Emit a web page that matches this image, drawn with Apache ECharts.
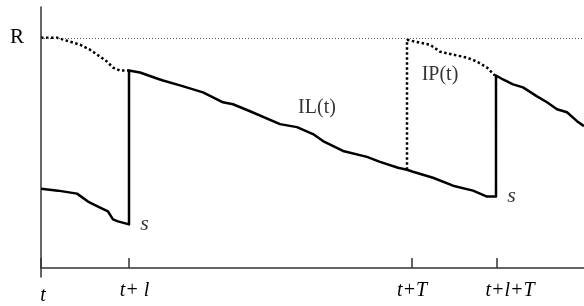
<!DOCTYPE html>
<html>
<head>
<meta charset="utf-8">
<script src="https://cdn.jsdelivr.net/npm/echarts@6/dist/echarts.min.js"></script>
<style>html,body{margin:0;padding:0;background:#fff}#c{width:584px;height:306px}</style>
</head>
<body>
<div id="c"></div>
<script>
// Inventory level IL(t) (solid), includes order arrival jumps
const ilPoints = [[0,80],[17,78],[36,75],[47,67],[57,62],[67,57],[72,49],[77,47],[88,44],[88,199],[99,197],[116,191],[122,189],[139,184],[162,177],[182,167],[192,165],[209,158],[239,145],[256,142],[272,135],[282,128],[302,118],[326,112],[339,107],[357,101],[366,99],[372,97],[392,91],[412,83],[432,78],[439,75],[446,72],[455,72],[455,194],[462,190],[472,185],[482,182],[496,173],[506,167],[516,160],[526,157],[536,148],[543,143]];
// Inventory position IP(t) (dotted), first cycle
const ipPoints1 = [[0,232],[16,232],[26,229],[39,225],[49,220],[59,213],[66,208],[72,202],[79,199],[88,199]];
// Inventory position IP(t) (dotted), second cycle after order at t+T
const ipPoints2 = [[366,99],[366,230],[367,229],[379,227],[389,225],[399,218],[412,215],[426,212],[436,208],[446,202],[454,194]];
// Order-up-to level R
const levelR = 232;
// x-axis ticks
const tickValues = [0, 88, 371, 456];
const tickLabels = ['t', 't+ l', 't+T', 't+l+T'];
// curve annotations
const curveLabels = [{name:'IL(t)', value:[276,162]}, {name:'IP(t)', value:[399,195]}];
const sLabels = [{name:'s', value:[103.5,44]}, {name:'s', value:[470.5,72.5]}];

const serif = 'Liberation Serif';
const tickKeys = ['a','b','c','d'];
const chart = echarts.init(document.getElementById('c'), null, {renderer:'canvas'});
chart.setOption({
  animation:false,
  backgroundColor:'#fff',
  grid:{left:41, right:0, top:7, bottom:27},
  xAxis:{
    type:'value', min:0, max:543,
    axisLine:{onZero:true, lineStyle:{color:'#333', width:1.5}},
    splitLine:{show:false},
    axisTick:{show:true, inside:true, length:10, customValues:tickValues, lineStyle:{color:'#333', width:1.5}},
    axisLabel:{
      customValues:tickValues, margin:4,
      formatter:function(v){ const i = tickValues.indexOf(v); return '{' + tickKeys[i] + '|' + tickLabels[i] + '}'; },
      rich:{
        a:{fontFamily:serif, fontStyle:'italic', fontSize:20, color:'#000', padding:[5,0,0,4]},
        b:{fontFamily:serif, fontStyle:'italic', fontSize:20, color:'#000', padding:[0,0,0,11]},
        c:{fontFamily:serif, fontStyle:'italic', fontSize:20, color:'#000', padding:[0,0,0,0]},
        d:{fontFamily:serif, fontStyle:'italic', fontSize:20, color:'#000', padding:[0,0,0,26]}
      }
    }
  },
  yAxis:{
    type:'value', min:-9, max:263,
    axisLine:{show:true, onZero:false, lineStyle:{color:'#333', width:1.5}},
    splitLine:{show:false},
    axisTick:{show:false},
    axisLabel:{customValues:[levelR], formatter:function(){return 'R';}, margin:17, fontFamily:serif, fontSize:21, color:'#000', padding:[4,0,0,0]}
  },
  series:[
    {type:'line', data:ilPoints, symbol:'none', lineStyle:{color:'#000', width:2.5, join:'round'}, z:3,
     markLine:{silent:true, symbol:'none', label:{show:false},
       lineStyle:{color:'#555', width:1, type:[1,2]},
       data:[{yAxis:levelR}]}},
    {type:'line', data:ipPoints1, symbol:'none', lineStyle:{color:'#000', width:2.5, type:[2.5,2.5]}},
    {type:'line', data:ipPoints2, symbol:'none', lineStyle:{color:'#000', width:2.5, type:[2.5,2.5]}},
    {type:'scatter', data:curveLabels, symbolSize:0,
     label:{show:true, position:'inside', formatter:'{b}', fontFamily:serif, fontSize:20, color:'#000'}},
    {type:'scatter', data:sLabels, symbolSize:0,
     label:{show:true, position:'inside', formatter:'{b}', fontFamily:serif, fontStyle:'italic', fontSize:22, color:'#000'}}
  ]
});
</script>
</body>
</html>
